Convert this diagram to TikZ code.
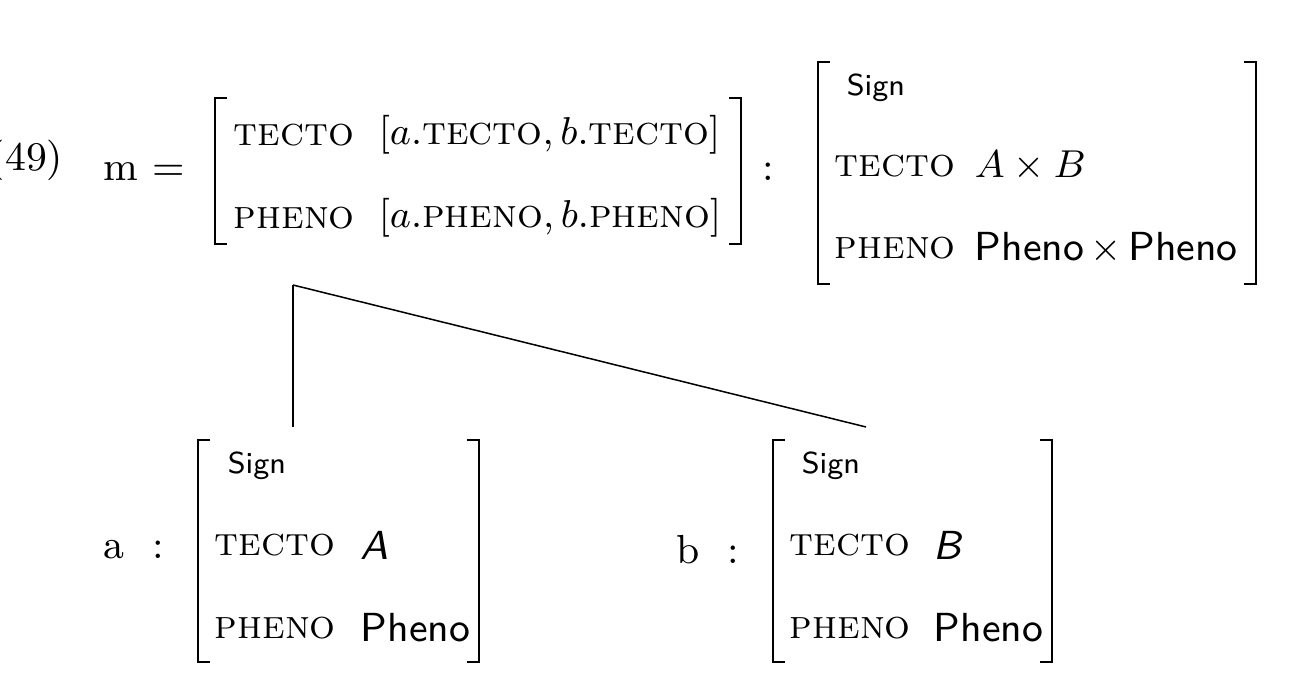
\documentclass[tikz,border=0pt]{standalone}
\begin{document}
\begin{tikzpicture}[x=0.2315pt,y=-0.2315pt,
  every node/.style={font=\fontsize{9.4}{11}\selectfont},
  lbl/.style={anchor=west,inner sep=0pt},
  brk/.style={line width=0.6pt},
  edge/.style={line width=0.35pt},
  sgn/.style={anchor=west,inner sep=0pt,font=\sffamily\fontsize{7}{8}\selectfont}]
\useasboundingbox (0,0) rectangle (1296,675);
\clip (0,0) rectangle (1296,675);
\newcommand\brkt[4]{% left x, right x, top y, bottom y
  \draw[brk] (#1+12,#3) -- (#1,#3) -- (#1,#4) -- (#1+12,#4);
  \draw[brk] (#2-12,#3) -- (#2,#3) -- (#2,#4) -- (#2-12,#4);}
% m
\node[anchor=east,inner sep=0pt] (num) at (64,160) {(49)};
\node[lbl] (m) at (103,172) {m\ =};
\brkt{215}{741}{98}{244}
\node[lbl] (mt) at (233,135) {\textsc{tecto}};
\node[lbl] (mtv) at (378,135) {$[a.\textsc{tecto}, b.\textsc{tecto}]$};
\node[lbl] (mp) at (233,218) {\textsc{pheno}};
\node[lbl] (mpv) at (378,218) {$[a.\textsc{pheno}, b.\textsc{pheno}]$};
\node[lbl] (mc) at (762,172) {:};
\brkt{818}{1256}{62}{284}
\node[sgn] (ms) at (846,88) {Sign};
\node[lbl] (mt2) at (834,166) {\textsc{tecto}};
\node[lbl] (mtv2) at (974,166) {$A\times B$};
\node[lbl] (mp2) at (834,248) {\textsc{pheno}};
\node[lbl] (mpv2) at (974,248) {\textsf{Pheno}$\,\times\,$\textsf{Pheno}};
% tree
\coordinate (top) at (293,285);
\coordinate (la) at (293,427);
\coordinate (lb) at (866,427);
\draw[edge] (top) -- (la);
\draw[edge] (top) -- (lb);
% a
\node[lbl] (a) at (103,550) {a\ \ :};
\brkt{198}{479}{440}{662}
\node[sgn] (as) at (227,466) {Sign};
\node[lbl] (at) at (214,545) {\textsc{tecto}};
\node[lbl] (atv) at (360,545) {\textsf{\itshape A}};
\node[lbl] (ap) at (214,628) {\textsc{pheno}};
\node[lbl] (apv) at (360,628) {\textsf{Pheno}};
% b
\node[lbl] (b) at (676,550) {b\ \ :};
\brkt{773}{1052}{440}{662}
\node[sgn] (bs) at (801,466) {Sign};
\node[lbl] (bt) at (789,545) {\textsc{tecto}};
\node[lbl] (btv) at (933,545) {\textsf{\itshape B}};
\node[lbl] (bp) at (789,628) {\textsc{pheno}};
\node[lbl] (bpv) at (933,628) {\textsf{Pheno}};
\end{tikzpicture}
\end{document}
